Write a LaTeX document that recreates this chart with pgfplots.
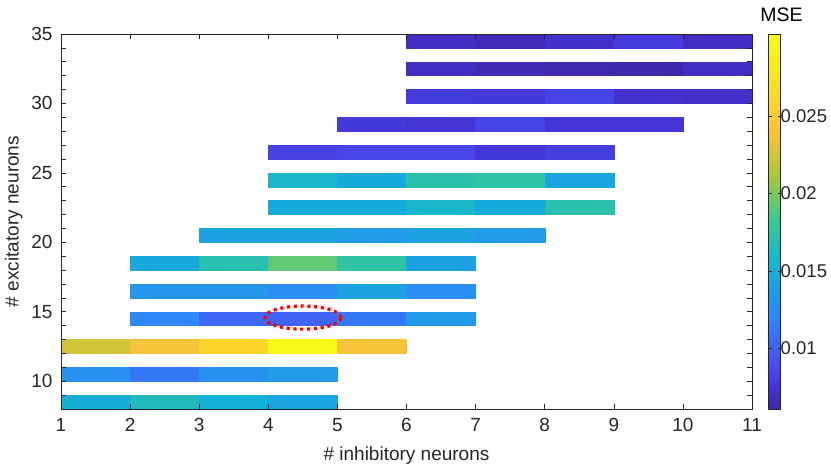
\documentclass[border=0pt]{standalone}
\usepackage{pgfplots}
\pgfplotsset{compat=1.18}
\usepgfplotslibrary{patchplots}
\usepackage{fontspec}
\setmainfont{Liberation Sans}
\definecolor{axgray}{gray}{0.15}
\pgfplotsset{
  colormap={parula}{
    rgb255(0)=(62,38,168);
    rgb255(1)=(68,52,212);
    rgb255(2)=(72,80,242);
    rgb255(4)=(46,135,247);
    rgb255(6)=(18,177,214);
    rgb255(8)=(55,200,151);
    rgb255(10)=(171,199,57);
    rgb255(12)=(254,195,56);
    rgb255(14)=(245,228,29);
    rgb255(16)=(249,251,21)
  }
}
\begin{document}
\begin{tikzpicture}
\begin{axis}[
  name=main,
  scale only axis,
  width=691pt, height=375pt,
  xmin=1, xmax=11, ymin=8, ymax=35,
  xtick={1,...,11},
  ytick={10,15,...,35},
  minor ytick={8,...,35},
  tick align=inside,
  major tick length=5pt, minor tick length=5pt,
  every tick/.style={axgray, line width=0.6pt},
  axis line style={axgray, line width=0.6pt},
  axis on top,
  /pgf/number format/assume math mode=true,
  tick label style={font=\fontsize{19}{22}\selectfont, text=axgray},
  xticklabel style={yshift=-6pt},
  yticklabel style={xshift=-5pt},
  label style={font=\fontsize{19}{22}\selectfont, text=axgray},
  xlabel={\# inhibitory neurons},
  ylabel={\# excitatory neurons},
  xlabel style={yshift=-8pt},
  ylabel style={yshift=2pt},
  colormap name=parula,
  point meta min=0.0061, point meta max=0.0303,
  colorbar,
  colorbar style={
    at={(parent axis.north east)}, anchor=north west, xshift=8pt,
    width=12pt,
    ytick={0.01,0.015,0.02,0.025},
    scaled y ticks=false,
    yticklabel style={/pgf/number format/fixed, /pgf/number format/precision=3, font=\fontsize{18.5}{22}\selectfont, xshift=-2pt, inner xsep=2pt},
    /pgf/number format/assume math mode=true,
    axis line style={axgray, line width=0.6pt},
    major tick length=3pt,
    tick align=inside,
    title={MSE},
    title style={font=\fontsize{19.5}{22}\selectfont, xshift=7pt, yshift=3pt},
  },
]
\addplot[patch, patch type=rectangle, shader=flat, point meta=explicit] coordinates {
(1,8)[0.0148] (2,8)[0.0148] (2,9)[0.0148] (1,9)[0.0148]
(2,8)[0.0164] (3,8)[0.0164] (3,9)[0.0164] (2,9)[0.0164]
(3,8)[0.0151] (4,8)[0.0151] (4,9)[0.0151] (3,9)[0.0151]
(4,8)[0.0143] (5,8)[0.0143] (5,9)[0.0143] (4,9)[0.0143]
(1,10)[0.0129] (2,10)[0.0129] (2,11)[0.0129] (1,11)[0.0129]
(2,10)[0.0113] (3,10)[0.0113] (3,11)[0.0113] (2,11)[0.0113]
(3,10)[0.0129] (4,10)[0.0129] (4,11)[0.0129] (3,11)[0.0129]
(4,10)[0.0136] (5,10)[0.0136] (5,11)[0.0136] (4,11)[0.0136]
(1,12)[0.0227] (2,12)[0.0227] (2,13)[0.0227] (1,13)[0.0227]
(2,12)[0.0240] (3,12)[0.0240] (3,13)[0.0240] (2,13)[0.0240]
(3,12)[0.0257] (4,12)[0.0257] (4,13)[0.0257] (3,13)[0.0257]
(4,12)[0.0301] (5,12)[0.0301] (5,13)[0.0301] (4,13)[0.0301]
(5,12)[0.0240] (6,12)[0.0240] (6,13)[0.0240] (5,13)[0.0240]
(2,14)[0.0122] (3,14)[0.0122] (3,15)[0.0122] (2,15)[0.0122]
(3,14)[0.0104] (4,14)[0.0104] (4,15)[0.0104] (3,15)[0.0104]
(4,14)[0.0102] (5,14)[0.0102] (5,15)[0.0102] (4,15)[0.0102]
(5,14)[0.0113] (6,14)[0.0113] (6,15)[0.0113] (5,15)[0.0113]
(6,14)[0.0136] (7,14)[0.0136] (7,15)[0.0136] (6,15)[0.0136]
(2,16)[0.0132] (3,16)[0.0132] (3,17)[0.0132] (2,17)[0.0132]
(3,16)[0.0132] (4,16)[0.0132] (4,17)[0.0132] (3,17)[0.0132]
(4,16)[0.0125] (5,16)[0.0125] (5,17)[0.0125] (4,17)[0.0125]
(5,16)[0.0140] (6,16)[0.0140] (6,17)[0.0140] (5,17)[0.0140]
(6,16)[0.0126] (7,16)[0.0126] (7,17)[0.0126] (6,17)[0.0126]
(2,18)[0.0146] (3,18)[0.0146] (3,19)[0.0146] (2,19)[0.0146]
(3,18)[0.0170] (4,18)[0.0170] (4,19)[0.0170] (3,19)[0.0170]
(4,18)[0.0193] (5,18)[0.0193] (5,19)[0.0193] (4,19)[0.0193]
(5,18)[0.0176] (6,18)[0.0176] (6,19)[0.0176] (5,19)[0.0176]
(6,18)[0.0140] (7,18)[0.0140] (7,19)[0.0140] (6,19)[0.0140]
(3,20)[0.0140] (4,20)[0.0140] (4,21)[0.0140] (3,21)[0.0140]
(4,20)[0.0140] (5,20)[0.0140] (5,21)[0.0140] (4,21)[0.0140]
(5,20)[0.0136] (6,20)[0.0136] (6,21)[0.0136] (5,21)[0.0136]
(6,20)[0.0140] (7,20)[0.0140] (7,21)[0.0140] (6,21)[0.0140]
(7,20)[0.0136] (8,20)[0.0136] (8,21)[0.0136] (7,21)[0.0136]
(4,22)[0.0147] (5,22)[0.0147] (5,23)[0.0147] (4,23)[0.0147]
(5,22)[0.0147] (6,22)[0.0147] (6,23)[0.0147] (5,23)[0.0147]
(6,22)[0.0158] (7,22)[0.0158] (7,23)[0.0158] (6,23)[0.0158]
(7,22)[0.0147] (8,22)[0.0147] (8,23)[0.0147] (7,23)[0.0147]
(8,22)[0.0172] (9,22)[0.0172] (9,23)[0.0172] (8,23)[0.0172]
(4,24)[0.0158] (5,24)[0.0158] (5,25)[0.0158] (4,25)[0.0158]
(5,24)[0.0147] (6,24)[0.0147] (6,25)[0.0147] (5,25)[0.0147]
(6,24)[0.0172] (7,24)[0.0172] (7,25)[0.0172] (6,25)[0.0172]
(7,24)[0.0175] (8,24)[0.0175] (8,25)[0.0175] (7,25)[0.0175]
(8,24)[0.0143] (9,24)[0.0143] (9,25)[0.0143] (8,25)[0.0143]
(4,26)[0.0083] (5,26)[0.0083] (5,27)[0.0083] (4,27)[0.0083]
(5,26)[0.0086] (6,26)[0.0086] (6,27)[0.0086] (5,27)[0.0086]
(6,26)[0.0086] (7,26)[0.0086] (7,27)[0.0086] (6,27)[0.0086]
(7,26)[0.0078] (8,26)[0.0078] (8,27)[0.0078] (7,27)[0.0078]
(8,26)[0.0082] (9,26)[0.0082] (9,27)[0.0082] (8,27)[0.0082]
(5,28)[0.0079] (6,28)[0.0079] (6,29)[0.0079] (5,29)[0.0079]
(6,28)[0.0076] (7,28)[0.0076] (7,29)[0.0076] (6,29)[0.0076]
(7,28)[0.0085] (8,28)[0.0085] (8,29)[0.0085] (7,29)[0.0085]
(8,28)[0.0077] (9,28)[0.0077] (9,29)[0.0077] (8,29)[0.0077]
(9,28)[0.0077] (10,28)[0.0077] (10,29)[0.0077] (9,29)[0.0077]
(6,30)[0.0080] (7,30)[0.0080] (7,31)[0.0080] (6,31)[0.0080]
(7,30)[0.0079] (8,30)[0.0079] (8,31)[0.0079] (7,31)[0.0079]
(8,30)[0.0085] (9,30)[0.0085] (9,31)[0.0085] (8,31)[0.0085]
(9,30)[0.0074] (10,30)[0.0074] (10,31)[0.0074] (9,31)[0.0074]
(10,30)[0.0072] (11,30)[0.0072] (11,31)[0.0072] (10,31)[0.0072]
(6,32)[0.0069] (7,32)[0.0069] (7,33)[0.0069] (6,33)[0.0069]
(7,32)[0.0066] (8,32)[0.0066] (8,33)[0.0066] (7,33)[0.0066]
(8,32)[0.0064] (9,32)[0.0064] (9,33)[0.0064] (8,33)[0.0064]
(9,32)[0.0062] (10,32)[0.0062] (10,33)[0.0062] (9,33)[0.0062]
(10,32)[0.0069] (11,32)[0.0069] (11,33)[0.0069] (10,33)[0.0069]
(6,34)[0.0069] (7,34)[0.0069] (7,35)[0.0069] (6,35)[0.0069]
(7,34)[0.0067] (8,34)[0.0067] (8,35)[0.0067] (7,35)[0.0067]
(8,34)[0.0073] (9,34)[0.0073] (9,35)[0.0073] (8,35)[0.0073]
(9,34)[0.0080] (10,34)[0.0080] (10,35)[0.0080] (9,35)[0.0080]
(10,34)[0.0069] (11,34)[0.0069] (11,35)[0.0069] (10,35)[0.0069]
};
\draw[red, line width=3.2pt, dash pattern=on 3.2pt off 3.6pt] (axis cs:4.5,14.58) ellipse [x radius=0.55, y radius=0.83];
\end{axis}
\path ([xshift=-61pt,yshift=34pt]main.north west) ([xshift=79pt,yshift=-61pt]main.south east);
\end{tikzpicture}
\end{document}
